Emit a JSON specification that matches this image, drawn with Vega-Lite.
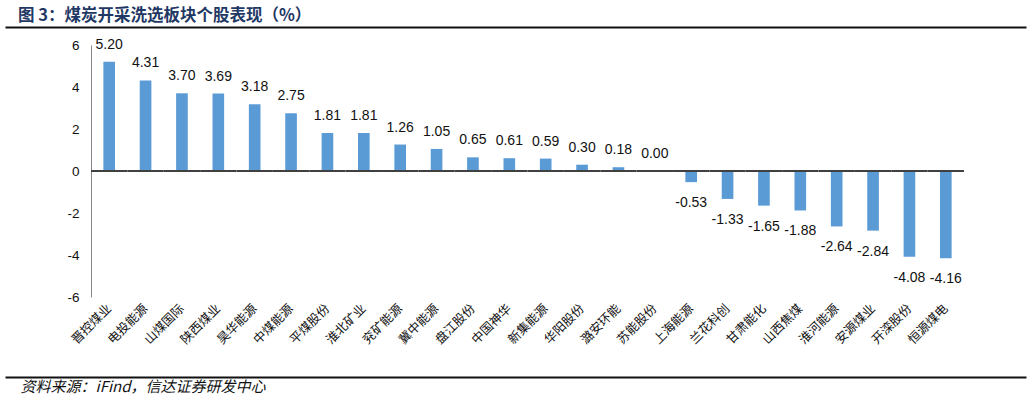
{
  "$schema": "https://vega.github.io/schema/vega-lite/v6.json",
  "width": 1021,
  "height": 252,
  "autosize": {"type": "none"},
  "padding": {"left": 5, "top": 45, "right": 5, "bottom": 106},
  "background": "white",
  "title": {
    "text": "图 3：煤炭开采洗选板块个股表现（%）",
    "anchor": "start",
    "dx": 13,
    "offset": 3,
    "font": "Noto Sans CJK SC",
    "fontSize": 16.5,
    "fontWeight": "bold",
    "color": "#1F3864"
  },
  "data": {
    "values": [
      {"name": "晋控煤业", "value": 5.20},
      {"name": "电投能源", "value": 4.31},
      {"name": "山煤国际", "value": 3.70},
      {"name": "陕西煤业", "value": 3.69},
      {"name": "昊华能源", "value": 3.18},
      {"name": "中煤能源", "value": 2.75},
      {"name": "平煤股份", "value": 1.81},
      {"name": "淮北矿业", "value": 1.81},
      {"name": "兖矿能源", "value": 1.26},
      {"name": "冀中能源", "value": 1.05},
      {"name": "盘江股份", "value": 0.65},
      {"name": "中国神华", "value": 0.61},
      {"name": "新集能源", "value": 0.59},
      {"name": "华阳股份", "value": 0.30},
      {"name": "潞安环能", "value": 0.18},
      {"name": "苏能股份", "value": 0.00},
      {"name": "上海能源", "value": -0.53},
      {"name": "兰花科创", "value": -1.33},
      {"name": "甘肃能化", "value": -1.65},
      {"name": "山西焦煤", "value": -1.88},
      {"name": "淮河能源", "value": -2.64},
      {"name": "安源煤业", "value": -2.84},
      {"name": "开滦股份", "value": -4.08},
      {"name": "恒源煤电", "value": -4.16}
    ]
  },
  "layer": [
    {
      "layer": [
        {
          "mark": {"type": "bar", "color": "#5B9BD5"},
          "encoding": {
            "x": {
              "field": "name",
              "type": "nominal",
              "sort": null,
              "scale": {"rangeMin": 86, "rangeMax": 959, "paddingInner": 0.68, "paddingOuter": 0.34},
              "axis": {
                "orient": "bottom",
                "title": null,
                "domain": false,
                "ticks": false,
                "labelAngle": -45,
                "labelAlign": "right",
                "labelBaseline": "middle",
                "labelPadding": 9,
                "labelFont": "Noto Sans CJK SC",
                "labelFontSize": 12.5,
                "labelColor": "#111"
              }
            },
            "y": {
              "field": "value",
              "type": "quantitative",
              "scale": {"domain": [-6, 6], "nice": false},
              "axis": {
                "title": null,
                "offset": -86,
                "values": [-6, -4, -2, 0, 2, 4, 6],
                "labelExpr": "replace(datum.label, '−', '-')",
                "grid": false,
                "ticks": false,
                "domainColor": "#888",
                "labelPadding": 12,
                "labelFont": "Liberation Sans",
                "labelFontSize": 13.5,
                "labelColor": "#111"
              }
            }
          }
        },
        {
          "mark": {"type": "rule", "color": "#404040", "strokeWidth": 2},
          "encoding": {
            "x": {"field": "name", "type": "nominal", "sort": null, "bandPosition": -1.06},
            "x2": {"field": "name", "bandPosition": 2.06},
            "y": {"datum": 0}
          }
        },
        {
          "mark": {
            "type": "text",
            "dy": -13,
            "baseline": "alphabetic",
            "font": "Liberation Sans",
            "fontSize": 14,
            "color": "#111",
            "text": {"expr": "datum.value >= 0 ? format(datum.value, '.2f') : ''"}
          },
          "encoding": {
            "x": {"field": "name", "type": "nominal", "sort": null},
            "y": {"field": "value", "type": "quantitative"}
          }
        },
        {
          "mark": {
            "type": "text",
            "dy": 25,
            "baseline": "alphabetic",
            "font": "Liberation Sans",
            "fontSize": 14,
            "color": "#111",
            "text": {"expr": "datum.value < 0 ? replace(format(datum.value, '.2f'), '−', '-') : ''"}
          },
          "encoding": {
            "x": {"field": "name", "type": "nominal", "sort": null},
            "y": {"field": "value", "type": "quantitative"}
          }
        }
      ]
    },
    {
      "mark": {"type": "point", "opacity": 0},
      "encoding": {
        "x": {
          "field": "name",
          "type": "nominal",
          "sort": null,
          "axis": {
            "orient": "top",
            "offset": 18,
            "domain": true,
            "domainColor": "#111",
            "domainWidth": 2,
            "labels": false,
            "ticks": false,
            "title": null
          }
        }
      }
    },
    {
      "mark": {"type": "point", "opacity": 0},
      "encoding": {
        "x": {
          "field": "name",
          "type": "nominal",
          "sort": null,
          "axis": {
            "orient": "bottom",
            "offset": 80,
            "domain": true,
            "domainColor": "#111",
            "domainWidth": 2,
            "labels": false,
            "ticks": false,
            "title": "资料来源：iFind，信达证券研发中心",
            "titleAnchor": "start",
            "titleAlign": "left",
            "titleBaseline": "top",
            "titleX": 15,
            "titleY": 2,
            "titleFont": "Noto Sans CJK SC",
            "titleFontStyle": "italic",
            "titleFontWeight": "normal",
            "titleFontSize": 15,
            "titleColor": "#111"
          }
        }
      }
    }
  ],
  "resolve": {"scale": {"x": "independent"}, "axis": {"x": "independent"}},
  "config": {"view": {"stroke": null}}
}
